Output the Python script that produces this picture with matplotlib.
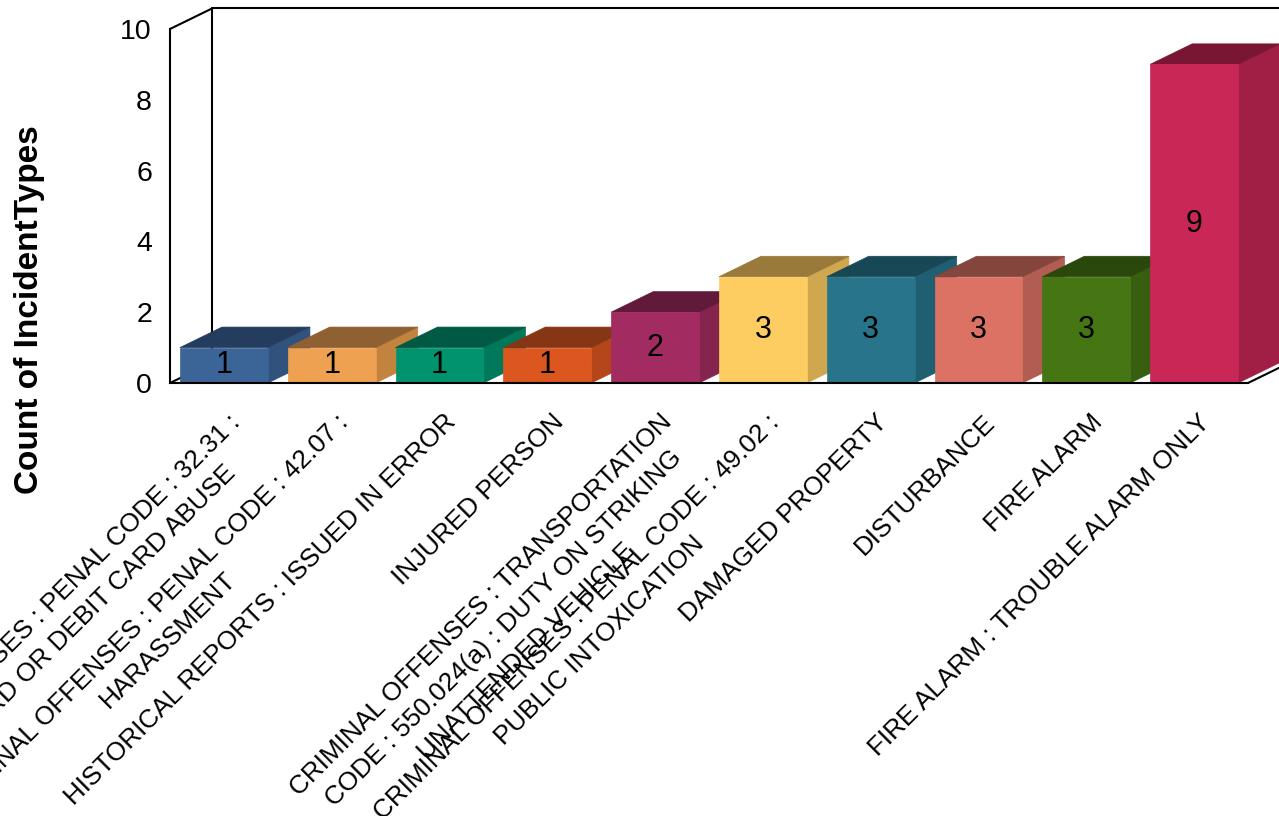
"""3D-style bar chart: count of incident types."""

import matplotlib

matplotlib.use("Agg")
import matplotlib.pyplot as plt
import matplotlib.transforms as mtransforms
from matplotlib.patches import Polygon

plt.rcParams["font.family"] = ["Liberation Sans", "DejaVu Sans"]

categories = [
    "CRIMINAL OFFENSES : PENAL CODE : 32.31 :\nCREDIT CARD OR DEBIT CARD ABUSE",
    "CRIMINAL OFFENSES : PENAL CODE : 42.07 :\nHARASSMENT",
    "HISTORICAL REPORTS : ISSUED IN ERROR",
    "INJURED PERSON",
    "CRIMINAL OFFENSES : TRANSPORTATION\nCODE : 550.024(a) : DUTY ON STRIKING\nUNATTENDED VEHICLE",
    "CRIMINAL OFFENSES : PENAL CODE : 49.02 :\nPUBLIC INTOXICATION",
    "DAMAGED PROPERTY",
    "DISTURBANCE",
    "FIRE ALARM",
    "FIRE ALARM : TROUBLE ALARM ONLY",
]
counts = [1, 1, 1, 1, 2, 3, 3, 3, 3, 9]
y_ticks = [0, 2, 4, 6, 8, 10]

front_colors = ["#3B6497", "#EEA150", "#00936E", "#DC5720", "#A22C61",
                "#FDCD62", "#28748A", "#DB7264", "#467514", "#C92857"]
top_colors = ["#243D5E", "#8F6032", "#005A43", "#873615", "#611A3A",
              "#9A7A3A", "#184855", "#84453C", "#2B480C", "#781634"]
side_colors = ["#30527D", "#C2833E", "#00785A", "#B4461A", "#84244F",
               "#CFA74F", "#1F5F71", "#B25D51", "#385F10", "#A11E44"]

# geometry of the fake 3d box (data units)
bar_w = 0.816
depth_x = 0.39
depth_y = 0.58
ymax = 10

fig = plt.figure(figsize=(12.79, 8.16), dpi=100)
ax = fig.add_axes([170 / 1279, 433 / 816, 1078 / 1279, 354 / 816])
ax.set_xlim(0, len(categories))
ax.set_ylim(0, ymax)
ax.patch.set_visible(False)

for side in ("top", "right"):
    ax.spines[side].set_visible(False)
for side in ("left", "bottom"):
    ax.spines[side].set_linewidth(1.5)
    ax.spines[side].set_color("black")
    ax.spines[side].set_zorder(10)

ax.set_yticks(y_ticks)
ax.tick_params(axis="y", length=0, pad=13, labelsize=20.5)
ax.set_xticks([])

# walls and floor outline
n = len(categories)
wall = dict(color="black", lw=1.5, clip_on=False, zorder=1, solid_capstyle="round")
ax.plot([0, depth_x], [ymax, ymax + depth_y], **wall)
ax.plot([depth_x, depth_x], [depth_y, ymax + depth_y], **wall)
ax.plot([depth_x, n + depth_x], [ymax + depth_y, ymax + depth_y], **wall)
ax.plot([0, depth_x], [0, depth_y], **wall)
ax.plot([n, n + depth_x], [0, depth_y], **wall)
ax.plot([depth_x, n + depth_x], [depth_y, depth_y], **wall)
ax.plot([n + depth_x, n + depth_x], [depth_y, ymax + depth_y], **wall)

# bars
for i, h in enumerate(counts):
    left = i + (1 - bar_w) / 2
    right = left + bar_w
    front = [(left, 0), (right, 0), (right, h), (left, h)]
    top = [(left, h), (right, h), (right + depth_x, h + depth_y), (left + depth_x, h + depth_y)]
    side = [(right, 0), (right + depth_x, depth_y), (right + depth_x, h + depth_y), (right, h)]
    for pts, col in ((side, side_colors[i]), (top, top_colors[i]), (front, front_colors[i])):
        ax.add_patch(Polygon(pts, closed=True, facecolor=col, edgecolor=col,
                             lw=0.5, clip_on=False, zorder=3))
    ax.text(i + 0.5, h / 2, str(h), ha="center", va="center", fontsize=22, zorder=4)

# category labels
label_tr = mtransforms.offset_copy(ax.transData, fig=fig, x=4, y=-27, units="dots")
for i, lab in enumerate(categories):
    ax.text(i + 0.5, 0, lab, transform=label_tr, rotation=45, rotation_mode="anchor",
            ha="right", va="top", multialignment="center", linespacing=1.45,
            fontsize=18.8, clip_on=False)

fig.text(30 / 1279, 1 - 310 / 816, "Count of IncidentTypes", rotation=90,
         ha="center", va="center", fontsize=24, fontweight="bold")

fig.savefig("out.png", dpi=100)
plt.close(fig)
